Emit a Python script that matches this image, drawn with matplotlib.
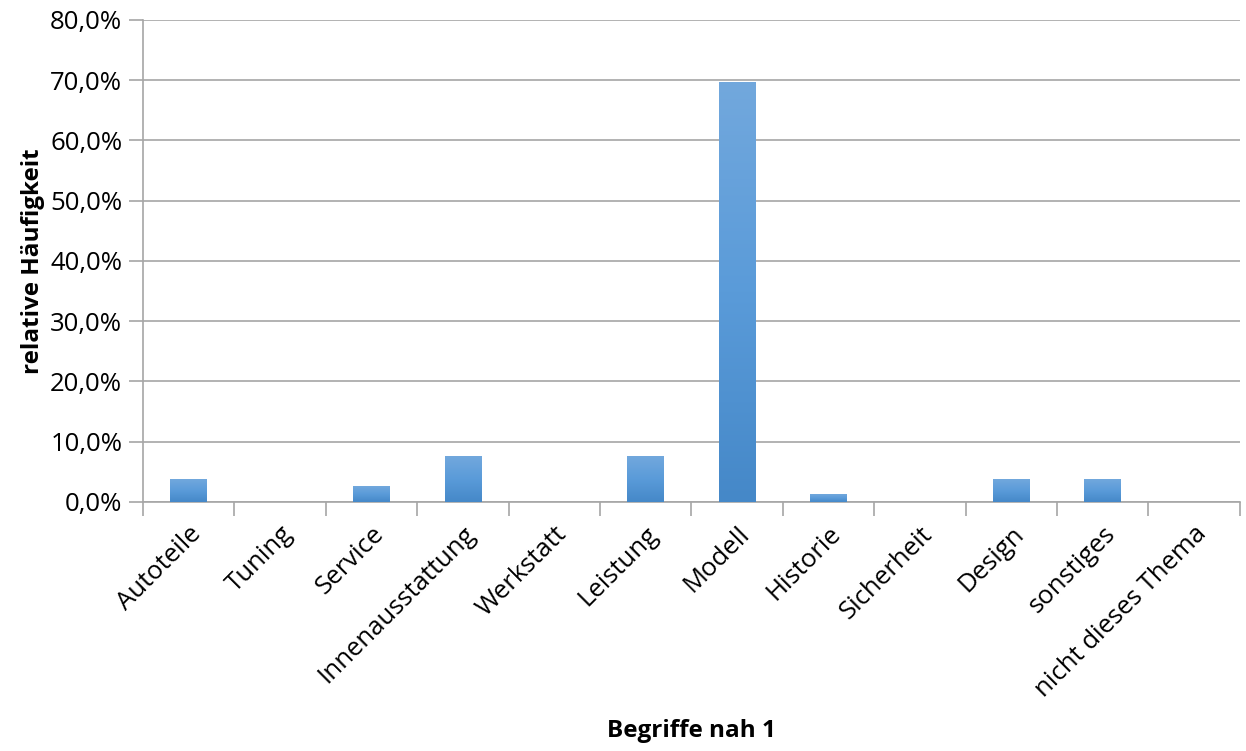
import matplotlib
matplotlib.use("Agg")
import matplotlib.pyplot as plt
import numpy as np
from matplotlib.colors import LinearSegmentedColormap
from matplotlib.ticker import FuncFormatter, MultipleLocator, FixedLocator

categories = ["Autoteile", "Tuning", "Service", "Innenausstattung", "Werkstatt",
              "Leistung", "Modell", "Historie", "Sicherheit", "Design",
              "sonstiges", "nicht dieses Thema"]
values = [3.8, 0.0, 2.5, 7.6, 0.0, 7.6, 69.6, 1.3, 0.0, 3.8, 3.8, 0.0]

plt.rcParams['font.family'] = ['Open Sans', 'DejaVu Sans']

fig = plt.figure(figsize=(12.46, 7.51), dpi=100)
ax = fig.add_axes([0.1148, 0.3316, 0.8802, 0.6418])

n = len(categories)
x = np.arange(n)
width = 0.4

# vertical gradient fill for each bar
cmap = LinearSegmentedColormap.from_list("barfill", ["#4588c8", "#5a9bd9", "#72a8dd"])
grad = np.linspace(0, 1, 256).reshape(-1, 1)
for xi, v in zip(x, values):
    if v <= 0:
        continue
    ax.imshow(grad, cmap=cmap, aspect='auto', origin='lower',
              extent=(xi - width / 2, xi + width / 2, 0, v), zorder=3,
              interpolation='bicubic')
ax.set_aspect('auto')
ax.set_xlim(-0.5, n - 0.5)
ax.set_ylim(0, 80)

ax.yaxis.set_major_locator(MultipleLocator(10))
ax.yaxis.set_major_formatter(FuncFormatter(lambda v, p: f"{v:.1f}%".replace('.', ',')))
ax.grid(axis='y', color='#a6a6a6', linewidth=1.2, zorder=0)
ax.set_axisbelow(True)

for s in ['top', 'right']:
    ax.spines[s].set_visible(False)
for s in ['left', 'bottom']:
    ax.spines[s].set_color('#a6a6a6')
    ax.spines[s].set_linewidth(1.2)

ax.xaxis.set_major_locator(FixedLocator(np.arange(-0.5, n, 1.0)))
ax.xaxis.set_major_formatter(FuncFormatter(lambda v, p: ""))
ax.xaxis.set_minor_locator(FixedLocator(x))
ax.set_xticklabels(categories, minor=True, rotation=45, ha='right',
                   rotation_mode='anchor', fontsize=18.5)
ax.tick_params(axis='x', which='major', length=10, width=1.2, color='#a6a6a6')
ax.tick_params(axis='x', which='minor', length=0, pad=14)
ax.tick_params(axis='y', length=10, width=1.2, color='#a6a6a6', labelsize=18.5, pad=5)

ax.set_ylabel("relative Häufigkeit", fontsize=17.5, fontweight='bold', labelpad=4)
fig.text(0.5546, 0.01, "Begriffe nah 1", fontsize=17.5, fontweight='bold',
         ha='center', va='bottom')

fig.savefig("out.png", dpi=100)
